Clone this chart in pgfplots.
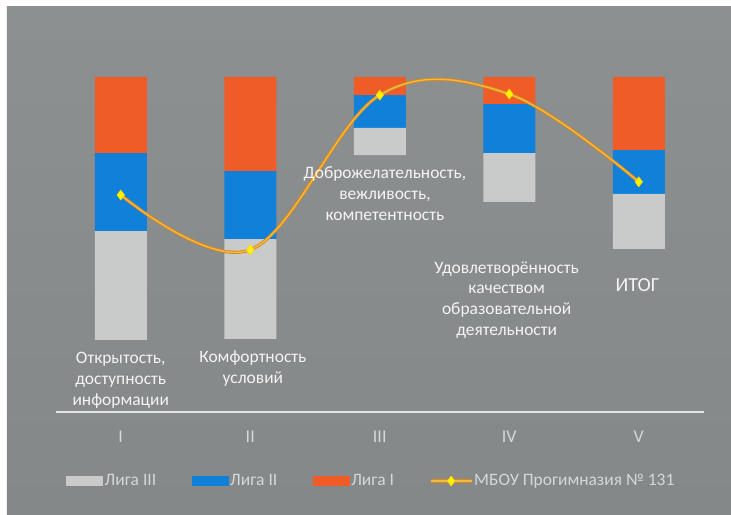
\documentclass[border=0pt]{standalone}
\usepackage{pgfplots}
\pgfplotsset{compat=1.18}
\usepackage{fontspec}
\setmainfont{Carlito}

\definecolor{bgtop}{HTML}{8C9090}
\definecolor{bgbot}{HTML}{848888}
\definecolor{liga3}{HTML}{C9CBCB}
\definecolor{liga2}{HTML}{1080D8}
\definecolor{liga1}{HTML}{F05C28}
\definecolor{lineout}{HTML}{D8891E}
\definecolor{linein}{HTML}{F4B93E}
\definecolor{markfill}{HTML}{FFF200}
\definecolor{labeltext}{HTML}{F4F4F4}
\definecolor{ticktext}{HTML}{D6D8D8}
\definecolor{axisline}{HTML}{E4E6E6}

% common frame of both axes: 1 category = 129.5 px, 1 unit = 3.35 px
\pgfplotsset{
  frame/.style={
    x=129.5bp, y=3.35bp,
    xmin=0.5, xmax=5.5, ymin=0, ymax=100,
    clip=false,
  },
  barbox/.style={legend image code/.code={\fill[##1] (0bp,-5bp) rectangle (37bp,5bp);}},
  linebox/.style={legend image code/.code={
    \draw[draw=lineout, line width=3.2bp] (0bp,0bp) -- (40bp,0bp);
    \draw[##1, mark repeat=2, mark phase=2] plot coordinates {(0bp,0bp) (20bp,0bp) (40bp,0bp)};}},
}

\begin{document}
\begin{tikzpicture}
% page and background (axis origin = x 0.5, y 0)
\fill[white] (-56bp,-103bp) rectangle (675bp,412bp);
\shade[top color=bgtop, bottom color=bgbot] (-49bp,-103bp) rectangle (675bp,405bp);

\begin{axis}[
  frame,
  axis x line=bottom, axis y line=none,
  x axis line style={-, draw=axisline, line width=2.2bp},
  xtick={1,2,3,4,5}, xticklabels={I,II,III,IV,V},
  major tick length=0pt,
  xticklabel style={font=\fontsize{18}{18}\selectfont, text=ticktext, anchor=base, yshift=-30bp},
  ybar stacked, bar width=52bp,
]
% invisible base of each floating bar
\addplot[draw=none, fill=none, forget plot] coordinates {(1,21.5) (2,21.8) (3,76.7) (4,62.7) (5,48.7)};
\addplot[draw=none, fill=liga3] coordinates {(1,32.5) (2,29.8) (3,8.1) (4,14.6) (5,16.4)};
\addplot[draw=none, fill=liga2] coordinates {(1,23.3) (2,20.3) (3,9.8) (4,14.6) (5,13.1)};
\addplot[draw=none, fill=liga1] coordinates {(1,22.7) (2,28.1) (3,5.4) (4,8.1) (5,21.8)};
\end{axis}

\begin{axis}[
  frame,
  hide axis,
  legend columns=4,
  legend style={
    at={(0.0154,-0.206)}, anchor=west,
    draw=none, fill=none, inner sep=0pt,
    font=\fontsize{17.5}{17.5}\selectfont, text=ticktext,
    nodes={inner xsep=1.5bp, inner ysep=1bp},
    /tikz/every odd column/.append style={column sep=0bp},
    /tikz/every even column/.append style={column sep=34bp},
  },
]
\addlegendimage{fill=liga3, draw=none, barbox}
\addlegendentry{Лига III}
\addlegendimage{fill=liga2, draw=none, barbox}
\addlegendentry{Лига II}
\addlegendimage{fill=liga1, draw=none, barbox}
\addlegendentry{Лига I}

\addplot[draw=lineout, line width=3.2bp, smooth, tension=0.6, forget plot]
  coordinates {(1,64.8) (2,48.4) (3,94.6) (4,94.9) (5,68.7)};
\addplot[draw=linein, line width=1.4bp, smooth, tension=0.6,
  mark=diamond*, mark size=5bp,
  mark options={fill=markfill, draw=markfill!80!orange, line width=0.5bp},
  linebox]
  coordinates {(1,64.8) (2,48.4) (3,94.6) (4,94.9) (5,68.7)};
\addlegendentry{МБОУ Прогимназия № 131}

\begin{scope}[every node/.style={font=\fontsize{17.5}{21}\selectfont, text=labeltext, align=center}]
\node at (axis cs:1.00,9.55) {Открытость,\\доступность\\информации};
\node at (axis cs:2.02,13.1) {Комфортность\\условий};
\node at (axis cs:3.04,65.1) {Доброжелательность,\\вежливость,\\компетентность};
\node at (axis cs:3.98,33.4) {Удовлетворённость\\качеством\\образовательной\\деятельности};
\node[font=\fontsize{20}{24}\selectfont] at (axis cs:4.99,37.9) {ИТОГ};
\end{scope}
\end{axis}
\end{tikzpicture}
\end{document}
